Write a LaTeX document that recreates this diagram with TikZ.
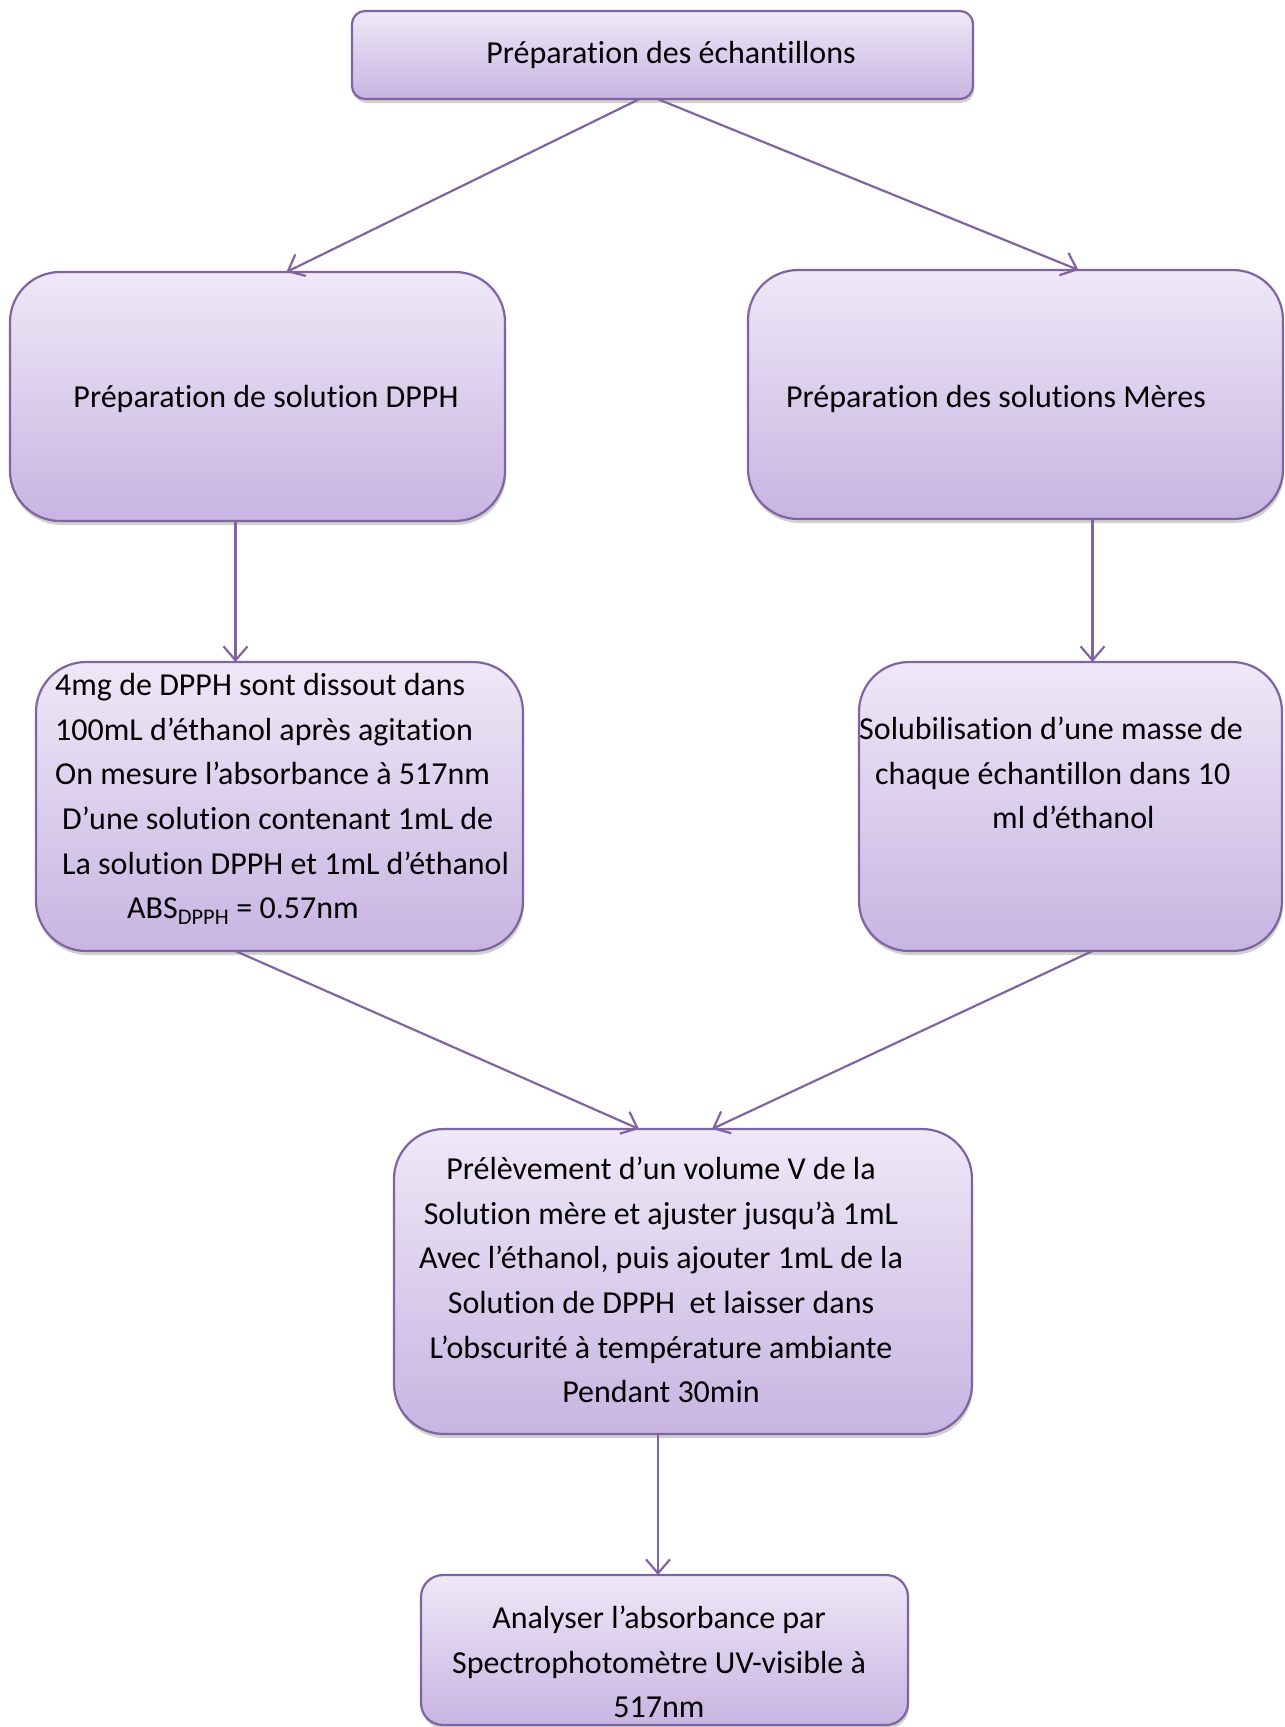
\documentclass[tikz,border=0pt]{standalone}
\usepackage{fontspec}
\setmainfont{Carlito}[Ligatures={TeX,NoCommon}]
\usetikzlibrary{arrows.meta,shadows,calc}
\definecolor{edge}{HTML}{8064A2}
\definecolor{ftop}{HTML}{EEE8F7}
\definecolor{fbot}{HTML}{C8B4E2}
\begin{document}
\begin{tikzpicture}[x=1pt,y=-1pt,
 box/.style={draw=edge, line width=2.2pt, top color=ftop, bottom color=fbot, anchor=north west, inner sep=0pt, outer sep=0pt,
   drop shadow={shadow xshift=1pt, shadow yshift=-4pt, opacity=0.3, fill=black!60}},
 txt/.style={font=\fontsize{32}{44.7}\selectfont, inner sep=0pt, text=black},
 conn/.style={draw=edge, line width=2.2pt, -{Straight Barb[length=14pt,width=24pt]}}]
\useasboundingbox (0,0) rectangle (1285,1727);
\node[box, rounded corners=13pt, minimum width=621pt, minimum height=88pt] (top) at (352,11) {};
\node[box, rounded corners=50pt, minimum width=495pt, minimum height=249pt] (dpph) at (10,272) {};
\node[box, rounded corners=50pt, minimum width=535pt, minimum height=249pt] (mere) at (748,270) {};
\node[box, rounded corners=50pt, minimum width=487pt, minimum height=289pt] (abs) at (36,662) {};
\node[box, rounded corners=50pt, minimum width=423pt, minimum height=289pt] (sol) at (859,662) {};
\node[box, rounded corners=50pt, minimum width=578pt, minimum height=305pt] (prel) at (394,1129) {};
\node[box, rounded corners=22pt, minimum width=487pt, minimum height=150pt] (ana) at (421,1575) {};

\node[txt] (t0) at (671,55) {Préparation des échantillons};
\node[txt] (t1) at (266,399) {Préparation de solution DPPH};
\node[txt] (t2) at (996,399) {Préparation des solutions Mères};
\node[txt, align=left, anchor=west] (t3) at (55,799) {4mg de DPPH sont dissout dans\\100mL d’éthanol après agitation\\On mesure l’absorbance à 517nm\\\hspace*{7pt}D’une solution contenant 1mL de\\\hspace*{7pt}La solution DPPH et 1mL d’éthanol\\\hspace*{72pt}ABS\textsubscript{DPPH} = 0.57nm};
\node[txt, align=left, anchor=west] (t4) at (859,773) {Solubilisation d’une masse de\\\hspace*{16pt}chaque échantillon dans 10\\\hspace*{133pt}ml d’éthanol};
\node[txt, align=center] (t5) at (661,1280) {Prélèvement d’un volume V de la\\Solution mère et ajuster jusqu’à 1mL\\Avec l’éthanol, puis ajouter 1mL de la\\Solution de DPPH\ \ et laisser dans\\L’obscurité à température ambiante\\Pendant 30min};
\node[txt, align=center] (t6) at (659,1662) {Analyser l’absorbance par\\Spectrophotomètre UV-visible à\\517nm};

\draw[conn] ([xshift=-23pt]top.south) -- ([xshift=29pt]dpph.north);
\draw[conn] ([xshift=-5pt]top.south) -- ([xshift=63pt]mere.north);
\draw[conn] ([xshift=-22pt]dpph.south) -- ([xshift=-22pt]dpph.south |- abs.north);
\draw[conn] ([xshift=77pt]mere.south) -- ([xshift=77pt]mere.south |- sol.north);
\draw[conn] ([xshift=-44pt]abs.south) -- ([xshift=-44pt]prel.north);
\draw[conn] ([xshift=22pt]sol.south) -- ([xshift=29pt]prel.north);
\draw[conn] ([xshift=-25pt]prel.south) -- ([xshift=-25pt]prel.south |- ana.north);
\end{tikzpicture}
\end{document}
